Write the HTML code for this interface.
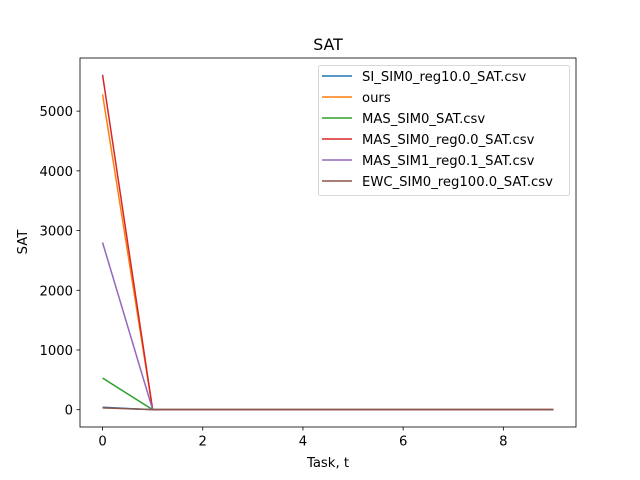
<!DOCTYPE html>
<html><head><meta charset="utf-8">
<style>
html,body{margin:0;padding:0;background:#fff;}
svg{display:block;font-family:"DejaVu Sans","Liberation Sans",sans-serif;}
</style></head>
<body>
<svg id="chart" width="640" height="480" xmlns="http://www.w3.org/2000/svg"></svg>
<script>
const tasks = [0,1,2,3,4,5,6,7,8,9];
const seriesNames = ["SI_SIM0_reg10.0_SAT.csv","ours","MAS_SIM0_SAT.csv","MAS_SIM0_reg0.0_SAT.csv","MAS_SIM1_reg0.1_SAT.csv","EWC_SIM0_reg100.0_SAT.csv"];
const siValues = [40,0,0,0,0,0,0,0,0,0];
const oursValues = [5280,0,0,0,0,0,0,0,0,0];
const masValues = [530,0,0,0,0,0,0,0,0,0];
const masReg0Values = [5610,0,0,0,0,0,0,0,0,0];
const masSim1Values = [2800,0,0,0,0,0,0,0,0,0];
const ewcValues = [30,0,0,0,0,0,0,0,0,0];
const xTicks = [0,2,4,6,8];
const yTicks = [0,1000,2000,3000,4000,5000];

const allSeries = [siValues,oursValues,masValues,masReg0Values,masSim1Values,ewcValues];
const colors = ["#1f77b4","#ff7f0e","#2ca02c","#d62728","#9467bd","#8c564b"];
const L=80,R=576,T=58,B=427;
const xMin=-0.45,xMax=9.45,yMin=-290,yMax=5890;
const xs=v=>L+(v-xMin)/(xMax-xMin)*(R-L);
const ys=v=>B-(v-yMin)/(yMax-yMin)*(B-T);
const svg=document.getElementById('chart');
const NS="http://www.w3.org/2000/svg";
function mk(tag,attrs,parent){const e=document.createElementNS(NS,tag);for(const k in attrs)e.setAttribute(k,attrs[k]);(parent||svg).appendChild(e);return e;}

allSeries.forEach((vals,i)=>{
  const pts=vals.map((v,j)=>xs(tasks[j]).toFixed(2)+","+ys(v).toFixed(2)).join(" ");
  const pl=mk('polyline',{points:pts,fill:"none",stroke:colors[i],"stroke-width":1.5});
  
  
});

const fr=mk('rect',{x:L,y:T,width:R-L,height:B-T,fill:"none",stroke:"#000","stroke-width":0.8});



xTicks.forEach(v=>{
  const x=xs(v);
  mk('line',{x1:x,x2:x,y1:B,y2:B+3.5,stroke:"#000","stroke-width":0.8});
  const t=mk('text',{x:x,y:B+18.5,"text-anchor":"middle","font-size":13.2});
  t.textContent=v;
  
  
});
yTicks.forEach(v=>{
  const y=ys(v);
  mk('line',{x1:L-3.5,x2:L,y1:y,y2:y,stroke:"#000","stroke-width":0.8});
  const t=mk('text',{x:L-7,y:y+5,"text-anchor":"end","font-size":13.2});
  t.textContent=v;
  
  
});

const title=mk('text',{x:(L+R)/2,y:50,"text-anchor":"middle","font-size":15.8});
title.textContent="SAT";


const xl=mk('text',{x:(L+R)/2,y:467,"text-anchor":"middle","font-size":13.2});
xl.textContent="Task, t";


const yl=mk('text',{x:0,y:0,"text-anchor":"middle","font-size":13.2,transform:"translate(27,242) rotate(-90)"});
yl.textContent="SAT";



const lg=mk('g',{});


mk('rect',{x:318.5,y:65.5,width:251,height:130,rx:2,fill:"#fff","fill-opacity":0.8,stroke:"#ccc","stroke-width":0.8},lg);
seriesNames.forEach((n,i)=>{
  const y=76+i*21;
  const ent=mk('g',{},lg);
  
  
  mk('line',{x1:322,x2:352,y1:y,y2:y,stroke:colors[i],"stroke-width":1.5},ent);
  const t=mk('text',{x:362,y:y+5,"font-size":13.2},ent);
  t.textContent=n;
});
</script>
</body></html>
